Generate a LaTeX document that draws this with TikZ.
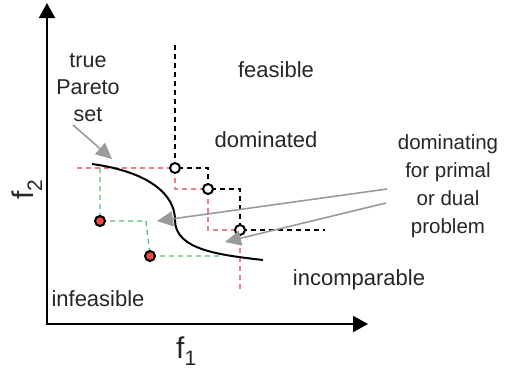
\documentclass[tikz,border=0pt]{standalone}
\usepackage{fontspec}
\setmainfont{Liberation Sans}
\usetikzlibrary{arrows.meta}
\definecolor{dred}{HTML}{F07F7F}
\definecolor{dgreen}{HTML}{5BBF6B}
\definecolor{agray}{HTML}{9A9A9A}
\definecolor{pfill}{HTML}{E94B4B}
\definecolor{txt}{HTML}{262626}
\begin{document}
\begin{tikzpicture}[x=1pt,y=-1pt,
  axis/.style={line width=2pt,line join=miter,{Triangle[length=15pt,width=16pt]}-{Triangle[length=15pt,width=16pt]}},
  blackdash/.style={line width=1.3pt,dash pattern=on 5pt off 4pt},
  reddash/.style={blackdash,dred},
  greendash/.style={blackdash,dgreen},
  openpt/.style={circle,draw=black,line width=2pt,fill=white,minimum size=10pt,inner sep=0pt},
  redpt/.style={openpt,fill=pfill},
  pointer/.style={agray,line width=1.6pt,-{Triangle[length=16pt,width=15pt]}},
  lbl/.style={font=\fontsize{22}{26}\selectfont,text=txt,inner sep=0pt},
  blk/.style={align=center,text=txt,inner sep=0pt},
]
\useasboundingbox (0,0) rectangle (510,370);

% axes
\coordinate (O) at (47,324);
\coordinate (ytip) at (47,3);
\coordinate (xtip) at (368,324);
\draw[axis] (ytip) -- (O) -- (xtip);
\node[anchor=base west,inner sep=0pt,text=txt,font=\fontsize{30}{30}\selectfont] (f1) at (176,358) {f\raisebox{-7pt}{\fontsize{21}{21}\selectfont 1}};
\node[anchor=base west,inner sep=0pt,text=txt,rotate=90,font=\fontsize{30}{30}\selectfont] (f2) at (33,200) {f\raisebox{-9pt}{\fontsize{21}{21}\selectfont 2}};

% points
\coordinate (c1) at (175,168);
\coordinate (c2) at (208,189);
\coordinate (c3) at (240,230);
\coordinate (r1) at (100,221);
\coordinate (r2) at (150,256);
\coordinate (btop) at (175,45);
\coordinate (bend) at (325,230);
\coordinate (rstart) at (77,168);
\coordinate (rend) at (240,292);
\coordinate (gtop) at (100,168);
\coordinate (gmid) at (146,221);
\coordinate (gend) at (222,256);

% dashed staircases
\draw[blackdash] (btop) -- (c1) -| (c2) -| (c3) -- (bend);
\draw[reddash] (rstart) -- (c1) |- (c2) |- (c3) -- (rend);
\draw[greendash] (gtop) -- (r1) -- (gmid) -- (r2) -- (gend);

% Pareto curve
\coordinate (ps) at (92,164);
\coordinate (pm) at (175,220);
\coordinate (pe) at (263,260);
\draw[line width=2pt] (ps) .. controls (150,172) and (175,195) .. (pm)
  .. controls (175,250) and (220,255) .. (pe);

% markers
\node[openpt] (n1) at (c1) {};
\node[openpt] (n2) at (c2) {};
\node[openpt] (n3) at (c3) {};
\node[redpt] (m1) at (r1) {};
\node[redpt] (m2) at (r2) {};

% labels
\node[lbl,anchor=base] (feas) at (276,77) {feasible};
\node[lbl,anchor=base] (dom) at (266,147) {dominated};
\node[lbl,anchor=base] (inc) at (359,285) {incomparable};
\node[lbl,anchor=base] (infeas) at (98,306) {infeasible};
\node[blk,font=\fontsize{21.5}{27}\selectfont] (pareto) at (88,88) {true\\Pareto\\set};
\node[blk,font=\fontsize{20.5}{28}\selectfont] (domg) at (448,186) {dominating\\for primal\\or dual\\problem};

% pointer arrows
\coordinate (pa0) at (73,125);
\coordinate (pa1) at (112,159);
\coordinate (da0) at (387,189);
\coordinate (da1) at (157,221);
\coordinate (db0) at (386,203);
\coordinate (db1) at (225,242);
\draw[pointer] (pa0) -- (pa1);
\draw[pointer] (da0) -- (da1);
\draw[pointer] (db0) -- (db1);
\end{tikzpicture}
\end{document}
